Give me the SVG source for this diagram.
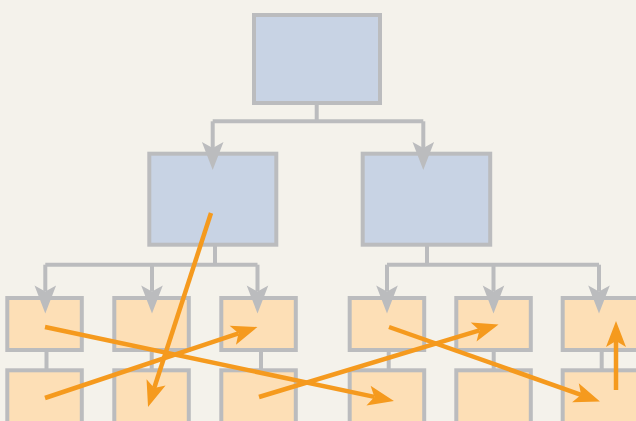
<svg xmlns="http://www.w3.org/2000/svg" width="636" height="421" viewBox="0 0 636 421">
  <style>
    .upper { fill: #c8d3e4; stroke: #bbbcbe; stroke-width: 4; }
    .leaf { fill: #fddfb6; stroke: #bbbcbe; stroke-width: 4; }
    .link { fill: none; stroke: #bbbcbe; stroke-width: 4; stroke-linejoin: miter; }
    .flow { fill: none; stroke: #f59a1e; stroke-width: 4.5; }
  </style>
  <defs>
    <marker id="grayHead" markerUnits="userSpaceOnUse" viewBox="-8 -12 32 24" markerWidth="32" markerHeight="24" refX="0" refY="0" orient="auto" overflow="visible">
      <path d="M-6,-10.8 L22,0 L-6,10.8 L0,0 Z" fill="#bbbcbe"/>
    </marker>
    <marker id="orangeHead" markerUnits="userSpaceOnUse" viewBox="-8 -12 30 24" markerWidth="30" markerHeight="24" refX="0" refY="0" orient="auto" overflow="visible">
      <path d="M-6,-10 L20,0 L-6,10 L0,0 Z" fill="#f59a1e"/>
    </marker>
  </defs>

  <rect width="636" height="421" fill="#f4f2eb"/>

  <!-- nodes -->
  <g id="root"><rect class="upper" x="254" y="15" width="126" height="88"/></g>
  <g id="mid-left"><rect class="upper" x="149.3" y="153.7" width="127" height="91"/></g>
  <g id="mid-right"><rect class="upper" x="362.7" y="153.7" width="127.5" height="91"/></g>

  <g id="leaf-1a"><rect class="leaf" x="7.3" y="298" width="74.5" height="52"/></g>
  <g id="leaf-2a"><rect class="leaf" x="114.3" y="298" width="74.5" height="52"/></g>
  <g id="leaf-3a"><rect class="leaf" x="221.3" y="298" width="74.5" height="52"/></g>
  <g id="leaf-4a"><rect class="leaf" x="349.7" y="298" width="74.5" height="52"/></g>
  <g id="leaf-5a"><rect class="leaf" x="456.3" y="298" width="74.5" height="52"/></g>
  <g id="leaf-6a"><rect class="leaf" x="562.7" y="298" width="80" height="52"/></g>

  <g id="leaf-1b"><rect class="leaf" x="7.3" y="370.3" width="74.5" height="60"/></g>
  <g id="leaf-2b"><rect class="leaf" x="114.3" y="370.3" width="74.5" height="60"/></g>
  <g id="leaf-3b"><rect class="leaf" x="221.3" y="370.3" width="74.5" height="60"/></g>
  <g id="leaf-4b"><rect class="leaf" x="349.7" y="370.3" width="74.5" height="60"/></g>
  <g id="leaf-5b"><rect class="leaf" x="456.3" y="370.3" width="74.5" height="60"/></g>
  <g id="leaf-6b"><rect class="leaf" x="562.7" y="370.3" width="80" height="60"/></g>

  <!-- tree connectors -->
  <g id="connectors">
    <path class="link" d="M316.7,103 V121.3"/>
    <path class="link" d="M212.7,121.3 H423.3"/>
    <path class="link" d="M212.7,121.3 V148" marker-end="url(#grayHead)"/>
    <path class="link" d="M423.3,121.3 V148" marker-end="url(#grayHead)"/>

    <path class="link" d="M215,244.7 V264.7"/>
    <path class="link" d="M45.3,264.7 H257.5"/>
    <path class="link" d="M45.3,264.7 V291.5" marker-end="url(#grayHead)"/>
    <path class="link" d="M152,264.7 V291.5" marker-end="url(#grayHead)"/>
    <path class="link" d="M257.5,264.7 V291.5" marker-end="url(#grayHead)"/>

    <path class="link" d="M427,244.7 V264.7"/>
    <path class="link" d="M387,264.7 H599"/>
    <path class="link" d="M387,264.7 V291.5" marker-end="url(#grayHead)"/>
    <path class="link" d="M493.5,264.7 V291.5" marker-end="url(#grayHead)"/>
    <path class="link" d="M599,264.7 V291.5" marker-end="url(#grayHead)"/>

    <path class="link" d="M46.5,350 V370"/>
    <path class="link" d="M151.7,350 V370"/>
    <path class="link" d="M261,350 V370"/>
    <path class="link" d="M388.7,350 V370"/>
    <path class="link" d="M493.7,350 V370"/>
    <path class="link" d="M601.7,350 V370"/>
  </g>

  <!-- crossing flows -->
  <g id="flows">
    <path class="flow" d="M211,213 L154.2,388" marker-end="url(#orangeHead)"/>
    <path class="flow" d="M45,327 L374.4,396.9" marker-end="url(#orangeHead)"/>
    <path class="flow" d="M45,398 L238.5,333.3" marker-end="url(#orangeHead)"/>
    <path class="flow" d="M259,397 L479.4,330.3" marker-end="url(#orangeHead)"/>
    <path class="flow" d="M389,327 L581.1,394.8" marker-end="url(#orangeHead)"/>
    <path class="flow" d="M616,390 L616,341" marker-end="url(#orangeHead)"/>
  </g>
</svg>
